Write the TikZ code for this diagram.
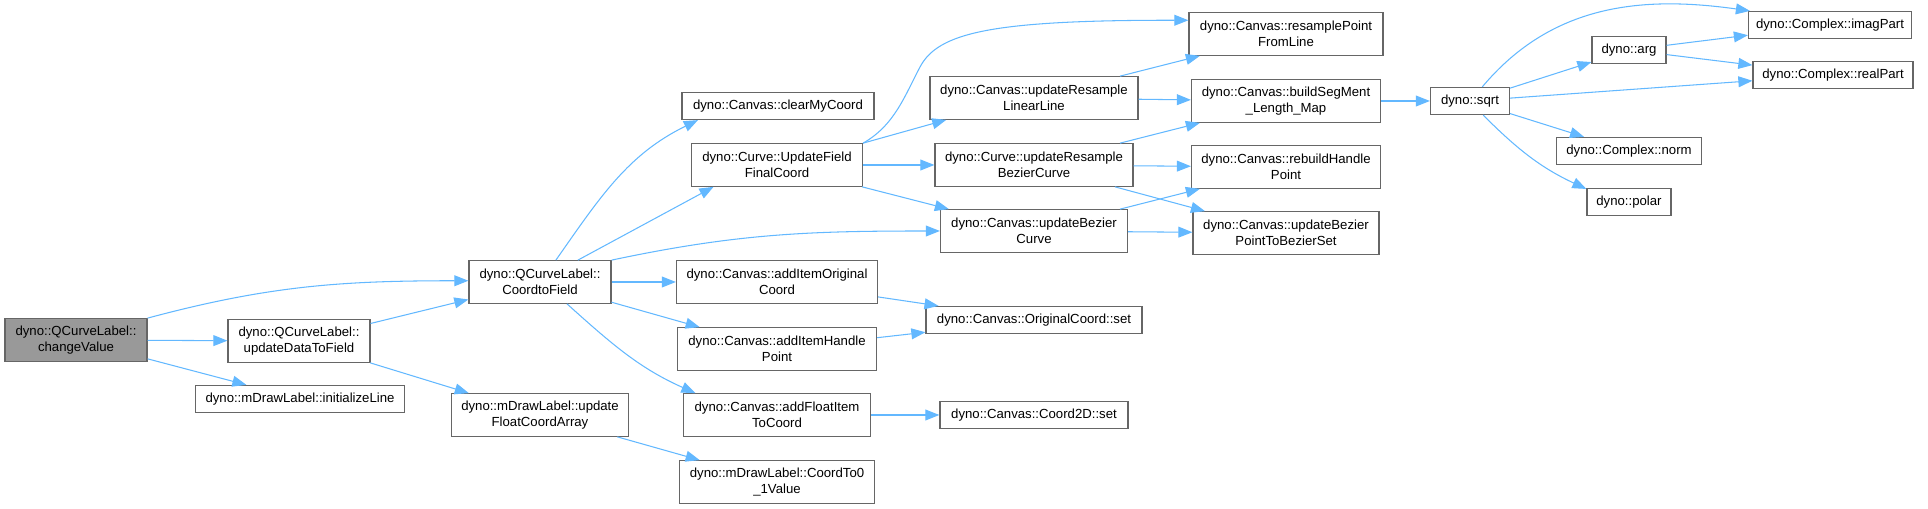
\documentclass[tikz,border=0pt]{standalone}
\usepackage{fontspec}
\setmainfont{Liberation Sans}
\usepackage{tikz}
\usetikzlibrary{arrows.meta,positioning}

\definecolor{edgeblue}{HTML}{63B8FF}
\definecolor{boxgray}{HTML}{666666}
\definecolor{rootgray}{HTML}{999999}

\begin{document}
\begin{tikzpicture}[
  x=0.02cm, y=0.02cm,
  font=\fontsize{7.5pt}{9.1pt}\selectfont,
  fnbox/.style={
    draw=boxgray, line width=0.7pt, fill=white,
    inner sep=1pt, align=center, minimum height=0.54cm,
  },
  tallbox/.style={fnbox, minimum height=0.85cm},
  rootbox/.style={tallbox, fill=rootgray},
  arr/.style={-{Triangle[length=8pt,width=6.2pt]}, edgeblue, line width=0.6pt},
]
\useasboundingbox (0,0) rectangle (1928,-509);
\node[rootbox, minimum width=2.84cm] (cv) at (76,-340) {dyno::QCurveLabel::\\changeValue};
\node[tallbox, minimum width=2.84cm] (udf) at (299,-341) {dyno::QCurveLabel::\\updateDataToField};
\node[fnbox, minimum width=4.18cm] (il) at (300,-399) {dyno::mDrawLabel::initializeLine};
\node[tallbox, minimum width=2.84cm] (ctf) at (540,-282) {dyno::QCurveLabel::\\CoordtoField};
\node[tallbox, minimum width=3.54cm] (ufca) at (540,-415) {dyno::mDrawLabel::update\\FloatCoordArray};
\node[fnbox, minimum width=3.84cm] (cmc) at (778,-106) {dyno::Canvas::clearMyCoord};
\node[tallbox, minimum width=3.42cm] (uffc) at (777,-165) {dyno::Curve::UpdateField\\FinalCoord};
\node[tallbox, minimum width=4.02cm] (aioc) at (777,-282) {dyno::Canvas::addItemOriginal\\Coord};
\node[tallbox, minimum width=3.98cm] (aihp) at (777,-349) {dyno::Canvas::addItemHandle\\Point};
\node[tallbox, minimum width=3.74cm] (afitc) at (777,-415) {dyno::Canvas::addFloatItem\\ToCoord};
\node[tallbox, minimum width=3.90cm] (ct01) at (777,-482) {dyno::mDrawLabel::CoordTo0\\\_1Value};
\node[tallbox, minimum width=4.16cm] (urll) at (1034,-98) {dyno::Canvas::updateResample\\LinearLine};
\node[tallbox, minimum width=3.96cm] (urbc) at (1034,-165) {dyno::Curve::updateResample\\BezierCurve};
\node[tallbox, minimum width=3.74cm] (ubc) at (1034,-231) {dyno::Canvas::updateBezier\\Curve};
\node[fnbox, minimum width=4.32cm] (ocs) at (1034,-320) {dyno::Canvas::OriginalCoord::set};
\node[fnbox, minimum width=3.76cm] (c2ds) at (1034,-415) {dyno::Canvas::Coord2D::set};
\node[tallbox, minimum width=3.88cm] (rpfl) at (1286,-34) {dyno::Canvas::resamplePoint\\FromLine};
\node[tallbox, minimum width=3.78cm] (bsm) at (1286,-101) {dyno::Canvas::buildSegMent\\\_Length\_Map};
\node[tallbox, minimum width=3.78cm] (rhp) at (1286,-167) {dyno::Canvas::rebuildHandle\\Point};
\node[tallbox, minimum width=3.72cm] (ubps) at (1286,-233) {dyno::Canvas::updateBezier\\PointToBezierSet};
\node[fnbox, minimum width=1.58cm] (sq) at (1470,-101) {dyno::sqrt};
\node[fnbox, minimum width=1.48cm] (arg) at (1629,-50) {dyno::arg};
\node[fnbox, minimum width=3.26cm] (imag) at (1830,-25) {dyno::Complex::imagPart};
\node[fnbox, minimum width=3.20cm] (real) at (1833,-75) {dyno::Complex::realPart};
\node[fnbox, minimum width=2.90cm] (norm) at (1629,-151) {dyno::Complex::norm};
\node[fnbox, minimum width=1.68cm] (polar) at (1629,-202) {dyno::polar};
% straight calls
\foreach \a/\b in {cv/udf, cv/il, udf/ctf, udf/ufca, ctf/aioc, ctf/aihp,
    ufca/ct01, uffc/urbc, uffc/ubc, aioc/ocs, aihp/ocs, afitc/c2ds,
    urll/rpfl, urll/bsm, urbc/bsm, urbc/rhp, urbc/ubps, ubc/rhp, ubc/ubps,
    bsm/sq, sq/arg, sq/real, sq/norm, arg/imag, arg/real}
  \draw[arr] (\a) -- (\b);
\draw[arr] (ctf.30) -- (uffc.199);
\draw[arr] (uffc.north east) -- (urll.194);
% curved calls
\draw[arr] (cv.17) to[out=15, in=180] (ctf.179);
\draw[arr] (ctf.54) to[out=55, in=206] (cmc.190);
\draw[arr] (ctf.north east) to[out=12, in=180] (ubc.west);
\draw[arr] (ctf.-39) to[out=-42, in=156] (afitc.165);
\draw[arr] (uffc.north east) .. controls (895,-125) and (905,-95) .. (920,-67)
  .. controls (938,-33) and (990,-20) .. (rpfl.172);
\draw[arr] (sq.49) to[out=50, in=172] (imag.170);
\draw[arr] (sq.-47) to[out=-45, in=155] (polar.163);
\end{tikzpicture}
\end{document}
